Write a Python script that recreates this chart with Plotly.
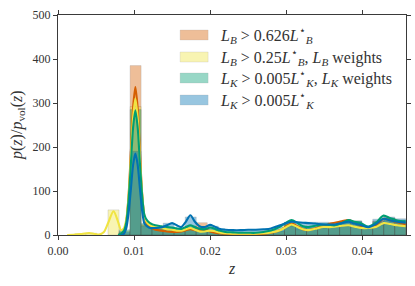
import plotly.graph_objects as go

# ---------------- data ----------------
bin_centers = [0.00150, 0.00295, 0.00440, 0.00585, 0.00730, 0.00875, 0.01020, 0.01165,
               0.01310, 0.01455, 0.01600, 0.01745, 0.01890, 0.02035, 0.02180, 0.02325,
               0.02470, 0.02615, 0.02760, 0.02905, 0.03050, 0.03195, 0.03340, 0.03485,
               0.03630, 0.03775, 0.03920, 0.04065, 0.04210, 0.04355, 0.04500]
bin_width = 0.00145

hist_LB_0626 = [None, None, None, None, None, 3, 385, 24, 16, 10, 8, 16, 28, 10, 3, 2,
                3, 2, 3, 8, 25, 15, 14, 22, 28, 30, 30, 18, 32, 38, 30]
hist_LB_025w = [None, 3, 4, None, 57, 9, 292, 22, 16, 12, 10, 16, 12, 9, 4, 3,
                3, 3, 4, 8, 20, 12, 12, 16, 18, 20, 22, 16, 22, 26, 22]
hist_LK_w = [None, None, None, None, None, 12, 285, 27, 20, 16, 14, 20, 16, 14, 6, 5,
             5, 5, 6, 12, 28, 20, 18, 22, 24, 30, 32, 18, 30, 38, 34]
hist_LK = [None, None, None, None, None, 7, 190, 20, 17, 27, 15, 41, 18, 20, 12, 10,
           10, 11, 12, 18, 29, 29, 29, 29, 22, 32, 32, 18, 36, 41, 37]

z_kde = [0.0012, 0.002, 0.003, 0.0035, 0.0041, 0.0047, 0.0054, 0.006, 0.0066, 0.0073, 0.0079, 0.0083,
         0.00867, 0.00897, 0.00927, 0.00957, 0.00987, 0.01017, 0.01047, 0.01077, 0.01107, 0.01137, 0.01177,
         0.0121, 0.0128, 0.0136, 0.0143, 0.015, 0.0156, 0.0162, 0.0168, 0.0174, 0.018,
         0.0186, 0.0193, 0.02, 0.0205, 0.0212, 0.022, 0.023, 0.024, 0.025, 0.026,
         0.027, 0.028, 0.0292, 0.03, 0.0307, 0.0315, 0.0322, 0.0329, 0.0338, 0.0349,
         0.0356, 0.0364, 0.0373, 0.0382, 0.039, 0.0399, 0.0408, 0.0418, 0.0428, 0.0437,
         0.0446, 0.0457]

kde_LB_0626 = [None] * 10 + [0, 2,
               8, 30, 87, 185, 289, 336, 289, 188, 92, 42, 22,
               18, 12, 10, 8, 7, 7, 8, 11, 13, 11,
               10, 12, 8, 6, 4, 3, 2, 2, 2, 2,
               3, 5, 11, 20, 26, 20, 13, 11, 15, 20,
               25, 28, 31, 34, 28, 20, 16, 22, 37, 33,
               29, 24]
kde_LB_025w = [0, 0.5, 2, 3.5, 4.5, 3, 1, 6, 28, 54, 30, 11,
               16, 35, 85, 172, 266, 310, 267, 176, 90, 42, 27,
               22, 18, 16, 13, 12, 10, 10, 13, 16, 12,
               8, 8, 10, 9, 6, 4, 3, 3, 3, 3,
               4, 6, 11, 18, 24, 18, 13, 11, 14, 18,
               18, 19, 21, 22, 19, 16, 16, 18, 27, 25,
               22, 20]
kde_LK_w = [None] * 10 + [0, 3,
            10, 28, 78, 158, 244, 283, 245, 163, 88, 45, 32,
            27, 22, 20, 18, 17, 15, 14, 18, 22, 18,
            14, 13, 17, 15, 10, 7, 6, 5, 5, 5,
            7, 10, 19, 28, 34, 27, 20, 18, 21, 24,
            23, 22, 27, 34, 30, 26, 19, 28, 44, 38,
            33, 31]
kde_LK = [None] * 11 + [0,
          3, 15, 48, 102, 159, 185, 160, 106, 54, 26, 19,
          16, 16, 17, 22, 27, 22, 18, 30, 45, 30,
          20, 18, 23, 20, 14, 12, 11, 11, 12, 12,
          13, 15, 22, 27, 30, 29, 28, 27, 26, 24,
          24, 24, 27, 30, 26, 22, 18, 25, 37, 33,
          30, 28]

labels = ["<i>L</i><sub><i>B</i></sub> > 0.626<i>L</i><sup>⋆</sup><sub><i>B</i></sub>",
          "<i>L</i><sub><i>B</i></sub> > 0.25<i>L</i><sup>⋆</sup><sub><i>B</i></sub>, <i>L</i><sub><i>B</i></sub> weights",
          "<i>L</i><sub><i>K</i></sub> > 0.005<i>L</i><sup>⋆</sup><sub><i>K</i></sub>, <i>L</i><sub><i>K</i></sub> weights",
          "<i>L</i><sub><i>K</i></sub> > 0.005<i>L</i><sup>⋆</sup><sub><i>K</i></sub>"]
colors = ["#D55E00", "#F0E442", "#009E73", "#0072B2"]
x_ticks = [0.00, 0.01, 0.02, 0.03, 0.04]
y_ticks = [0, 100, 200, 300, 400, 500]
x_title = "<i>z</i>"
y_title = "<i>p</i>(<i>z</i>)/<i>p</i><sub>vol</sub>(<i>z</i>)"

hists = [hist_LB_0626, hist_LB_025w, hist_LK_w, hist_LK]
kdes = [kde_LB_0626, kde_LB_025w, kde_LK_w, kde_LK]

# ---------------- figure ----------------
fig = go.Figure()
for h, c in zip(hists, colors):
    fig.add_trace(go.Bar(x=bin_centers, y=h, width=bin_width,
                         marker=dict(color=c, line=dict(color="rgba(0,0,0,0.45)", width=0.6)),
                         opacity=0.4, showlegend=False, hoverinfo="skip"))
for k, c in zip(kdes, colors):
    fig.add_trace(go.Scatter(x=z_kde, y=k, mode="lines",
                             line=dict(color=c, width=2.1, shape="spline", smoothing=0.8),
                             showlegend=False, hoverinfo="skip"))

W, H = 415, 286
L, R, T, B = 58, 9.3, 15, 51
pw, ph = W - L - R, H - T - B
def px_x(px):
    return (px - L) / pw
def px_y(py):
    return (H - B - py) / ph

serif = "Liberation Serif"
txt_col = "#333333"

# manual legend (patches + labels)
row_y = [35, 57, 78, 100]
for lab, c, ry in zip(labels, colors, row_y):
    fig.add_shape(type="rect", xref="paper", yref="paper",
                  x0=px_x(180), x1=px_x(208), y0=px_y(ry + 5), y1=px_y(ry - 5),
                  fillcolor=c, opacity=0.4, line=dict(color="rgba(0,0,0,0.3)", width=0.6))
    fig.add_annotation(xref="paper", yref="paper", x=px_x(218), y=px_y(ry), text=lab,
                       showarrow=False, xanchor="left", yanchor="middle",
                       font=dict(family=serif, size=16, color=txt_col))

# axis titles
fig.add_annotation(xref="paper", yref="paper", x=px_x(232), y=px_y(268), text=x_title,
                   showarrow=False, xanchor="center", yanchor="middle",
                   font=dict(family=serif, size=16, color=txt_col))
fig.add_annotation(xref="paper", yref="paper", x=px_x(17), y=px_y(125), text=y_title,
                   showarrow=False, xanchor="center", yanchor="middle", textangle=-90,
                   font=dict(family=serif, size=16, color=txt_col))

axis_common = dict(showline=True, linecolor="#3a3a3a", linewidth=1.2, mirror="ticks", ticks="outside",
                   ticklen=4, tickcolor="#3a3a3a", showgrid=False, zeroline=False, automargin=False,
                   tickfont=dict(family=serif, size=12, color=txt_col))
fig.update_layout(
    width=W, height=H, margin=dict(l=L, r=R, t=T, b=B),
    paper_bgcolor="white", plot_bgcolor="white", barmode="overlay",
    xaxis=dict(range=[0, 0.04575], tickvals=x_ticks, tickformat=".2f", **axis_common),
    yaxis=dict(range=[0, 500], tickvals=y_ticks, **axis_common),
)
fig.write_html("out.html", config={"displayModeBar": False, "staticPlot": True})

# remove the default page margin so the figure sits at the window origin
with open("out.html", "r", encoding="utf-8") as f:
    html = f.read()
html = html.replace("<head>", "<head><style>html,body{margin:0;padding:0;overflow:hidden;}</style>", 1)
with open("out.html", "w", encoding="utf-8") as f:
    f.write(html)
